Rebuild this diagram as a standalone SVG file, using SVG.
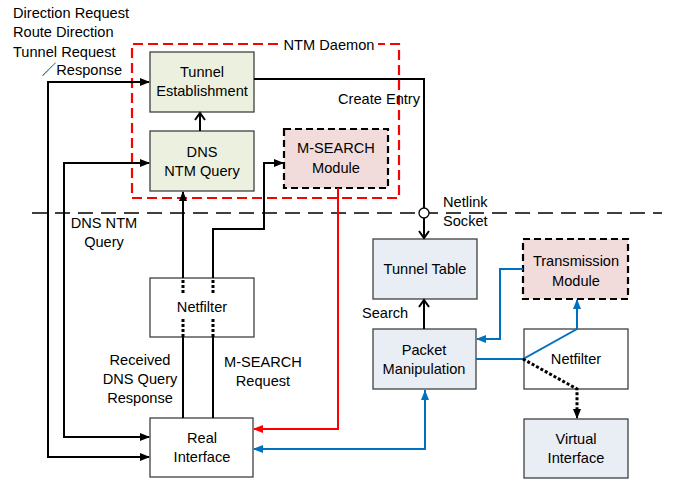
<svg xmlns="http://www.w3.org/2000/svg" width="686" height="481" viewBox="0 0 686 481">
<defs>
<style>
text{font-family:"Liberation Sans","Noto Sans CJK JP",sans-serif;font-size:14.6px;fill:#000;}
.c{text-anchor:middle;}
.box{stroke:#404040;stroke-width:1.3;}
.green{fill:#EBF1DE;}
.pink{fill:#F2DCDB;}
.blue{fill:#E9EDF4;}
.white{fill:#fff;}
.dbox{stroke:#000;stroke-width:2.2;stroke-dasharray:7,4;}
.ln{fill:none;stroke:#000;stroke-width:2;}
.dot{fill:none;stroke:#000;stroke-width:3;stroke-dasharray:3,2;}
.red{fill:none;stroke:#FF0000;stroke-width:2;}
.bl{fill:none;stroke:#0070C0;stroke-width:2;}
</style>
<marker id="ak" markerWidth="10" markerHeight="8" refX="9" refY="4" orient="auto" markerUnits="userSpaceOnUse"><path d="M0,0 L10,4 L0,8 Z" fill="#000"/></marker>
<marker id="ao" markerWidth="10" markerHeight="12" refX="8" refY="6" orient="auto" markerUnits="userSpaceOnUse"><path d="M1,1 L8,6 L1,11" fill="none" stroke="#000" stroke-width="2"/></marker>
<marker id="ar" markerWidth="10" markerHeight="8" refX="9" refY="4" orient="auto" markerUnits="userSpaceOnUse"><path d="M0,0 L10,4 L0,8 Z" fill="#FF0000"/></marker>
<marker id="ab" markerWidth="10" markerHeight="8" refX="9" refY="4" orient="auto" markerUnits="userSpaceOnUse"><path d="M0,0 L10,4 L0,8 Z" fill="#0070C0"/></marker>
</defs>

<!-- kernel/user boundary -->
<line x1="32" y1="213" x2="662" y2="213" stroke="#000" stroke-width="1.5" stroke-dasharray="15,8"/>

<!-- NTM Daemon container -->
<g id="ntm-daemon">
<path d="M278,44 L132,44 L132,198 L399,198 L399,44 L378,44" fill="none" stroke="#FF0000" stroke-width="2.2" stroke-dasharray="10,5"/>
<text x="329" y="50" class="c">NTM Daemon</text>
</g>

<g id="tunnel-establishment">
<rect x="150" y="52" width="104" height="60" class="box green"/>
<text x="202" y="77" class="c">Tunnel</text>
<text x="202" y="96" class="c">Establishment</text>
</g>
<g id="dns-ntm-query">
<rect x="150" y="131" width="104" height="60" class="box green"/>
<text x="202" y="157" class="c">DNS</text>
<text x="202" y="176" class="c">NTM Query</text>
</g>
<g id="m-search-module">
<rect x="284" y="129" width="104" height="59" class="dbox pink"/>
<text x="336" y="153" class="c">M-SEARCH</text>
<text x="336" y="173" class="c">Module</text>
</g>
<g id="netfilter-left">
<rect x="150" y="278" width="104" height="59" class="box white"/>
<text x="202" y="312" class="c">Netfilter</text>
</g>
<g id="real-interface">
<rect x="150" y="418" width="103" height="59" class="box white"/>
<text x="202" y="443" class="c">Real</text>
<text x="202" y="462" class="c">Interface</text>
</g>
<g id="tunnel-table">
<rect x="373" y="239" width="104" height="60" class="box blue"/>
<text x="425" y="274" class="c">Tunnel Table</text>
</g>
<g id="transmission-module">
<rect x="523" y="239" width="105" height="60" class="dbox pink"/>
<text x="576" y="266" class="c">Transmission</text>
<text x="576" y="286" class="c">Module</text>
</g>
<g id="packet-manipulation">
<rect x="373" y="329" width="103" height="60" class="box blue"/>
<text x="424" y="355" class="c">Packet</text>
<text x="424" y="374" class="c">Manipulation</text>
</g>
<g id="netfilter-right">
<rect x="524" y="329" width="104" height="60" class="box white"/>
<text x="576" y="364" class="c">Netfilter</text>
</g>
<g id="virtual-interface">
<rect x="524" y="419" width="104" height="59" class="box blue"/>
<text x="576" y="444" class="c">Virtual</text>
<text x="576" y="463" class="c">Interface</text>
</g>

<g id="connectors">
<!-- left feedback lines -->
<path d="M48,82 L149,82" class="ln" marker-end="url(#ak)"/>
<path d="M48,81 L48,457 L149,457" class="ln" marker-end="url(#ak)"/>
<path d="M64,163 L149,163" class="ln" marker-end="url(#ak)"/>
<path d="M64,162 L64,437 L149,437" class="ln" marker-end="url(#ak)"/>
<!-- DNS -> Tunnel Establishment -->
<line x1="200" y1="131" x2="200" y2="113" class="ln" marker-end="url(#ao)"/>
<!-- Tunnel Establishment -> Tunnel Table via netlink -->
<path d="M254,79 L424,79 L424,208" class="ln"/>
<line x1="424" y1="218" x2="424" y2="238" class="ln" marker-end="url(#ao)"/>
<circle cx="424" cy="213" r="5" fill="#fff" stroke="#000" stroke-width="1.3"/>
<!-- Real Interface -> DNS via Netfilter -->
<line x1="183" y1="418" x2="183" y2="337" class="ln"/>
<line x1="183" y1="337" x2="183" y2="318" class="dot"/>
<line x1="183" y1="293" x2="183" y2="278" class="dot"/>
<line x1="183" y1="278" x2="183" y2="192" class="ln" marker-end="url(#ak)"/>
<!-- Real Interface -> M-SEARCH via Netfilter -->
<line x1="213" y1="418" x2="213" y2="337" class="ln"/>
<line x1="213" y1="337" x2="213" y2="318" class="dot"/>
<line x1="213" y1="293" x2="213" y2="278" class="dot"/>
<path d="M213,278 L213,229 L264,229 L264,163 L283,163" class="ln" marker-end="url(#ak)"/>
<!-- M-SEARCH -> Real Interface (red) -->
<path d="M338,188 L338,429 L254,429" class="red" marker-end="url(#ar)"/>
<!-- Search -->
<line x1="424" y1="329" x2="424" y2="300" class="ln" marker-end="url(#ao)"/>
<!-- Blue: between Real Interface and Packet Manipulation -->
<path d="M425,390 L425,449 L254,449" class="bl" marker-end="url(#ab)"/>
<path d="M425,449 L425,391" class="bl" marker-end="url(#ab)"/>
<!-- Transmission -> Packet Manipulation -->
<path d="M523,269 L500,269 L500,339 L477,339" class="bl" marker-end="url(#ab)"/>
<!-- Packet Manipulation -> Netfilter -> Transmission -->
<path d="M476,359 L523,359 L577,329 L577,300" class="bl" marker-end="url(#ab)"/>
<!-- Netfilter -> Virtual Interface dotted -->
<path d="M523,359 L577,389 L577,410" class="dot"/>
<path d="M577,408 L577,418" class="ln" marker-end="url(#ak)"/>
</g>

<!-- labels -->
<text x="13" y="18">Direction Request</text>
<text x="13" y="37">Route Direction</text>
<text x="13" y="57">Tunnel Request</text>
<text x="122" y="75" text-anchor="end">／Response</text>
<text x="420" y="104" text-anchor="end">Create Entry</text>
<text x="104" y="228" class="c">DNS NTM</text>
<text x="104" y="247" class="c">Query</text>
<text x="443" y="207">Netlink</text>
<text x="443" y="226">Socket</text>
<text x="362" y="318">Search</text>
<text x="140" y="365" class="c">Received</text>
<text x="140" y="384" class="c">DNS Query</text>
<text x="140" y="403" class="c">Response</text>
<text x="263" y="367" class="c">M-SEARCH</text>
<text x="263" y="386" class="c">Request</text>
</svg>
